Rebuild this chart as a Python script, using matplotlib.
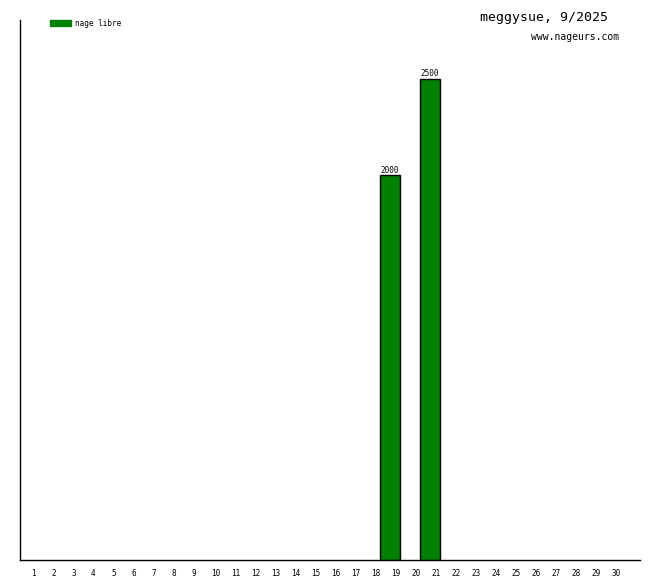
import matplotlib
matplotlib.use("Agg")
import matplotlib.pyplot as plt
from matplotlib.patches import Rectangle

days = list(range(1, 31))
day_labels = [str(d) for d in days]
swim_days = [19, 21]
swim_meters = [2000, 2500]
legend_label = "nage libre"
title = "meggysue, 9/2025"
site = "www.nageurs.com"

plt.rcParams['font.family'] = 'DejaVu Sans Mono'

fig = plt.figure(figsize=(6.6, 5.8), dpi=100)
ax = fig.add_axes([20 / 660, 20 / 580, 620 / 660, 540 / 580])

ax.bar(swim_days, swim_meters, width=1.0, color="#008000",
       edgecolor="black", linewidth=1)
for d, m in zip(swim_days, swim_meters):
    ax.text(d, m + 2, str(m), ha="center", va="bottom", fontsize=5.5)

ax.set_xlim(0.5, 31.5)
ax.set_ylim(0, 2805)
ax.set_xticks([])
ax.set_yticks([])
for d, lab in zip(days, day_labels):
    ax.text(d + 0.05, -0.025, lab, transform=ax.get_xaxis_transform(),
            ha="left", va="center", fontsize=5.5)

ax.spines["top"].set_visible(False)
ax.spines["right"].set_visible(False)
ax.spines["left"].set_linewidth(1)
ax.spines["bottom"].set_linewidth(1)

# legend swatch and label
fig.patches.append(Rectangle((50 / 660, 1 - 26 / 580), 21 / 660, 6 / 580,
                             transform=fig.transFigure, color="#008000"))
fig.text(75 / 660, 1 - 23 / 580, legend_label, ha="left", va="center",
         fontsize=5.5)

fig.text(608 / 660, 1 - 18 / 580, title, ha="right", va="center", fontsize=9.5)
fig.text(619 / 660, 1 - 37 / 580, site, ha="right", va="center", fontsize=7)

fig.savefig("out.png", dpi=100)
